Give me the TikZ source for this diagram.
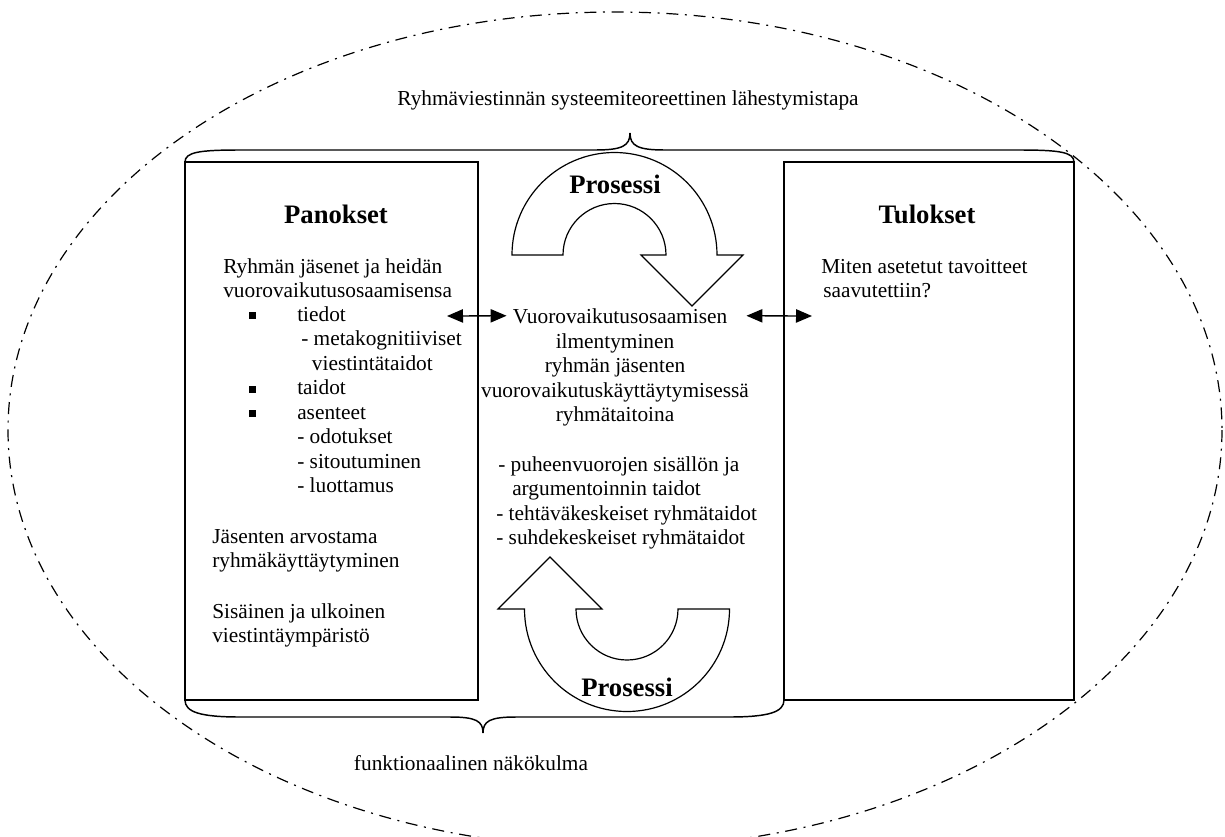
\documentclass[tikz,border=0pt]{standalone}
\usepackage{fontspec}
\setmainfont{Liberation Serif}
\usetikzlibrary{arrows.meta}

\newcommand{\sqbul}{\llap{\rule[1.5pt]{5.3pt}{5.3pt}\hspace{31pt}}}

\begin{document}
\begin{tikzpicture}[x=0.75pt,y=-0.75pt,
  txt/.style={font=\fontsize{16}{18.4}\selectfont,inner sep=0pt},
  head/.style={font=\fontsize{20}{24}\selectfont\bfseries,inner sep=0pt},
  boxline/.style={line width=1.25pt},
  brace/.style={line width=1.1pt},
  procarrow/.style={line width=0.9pt,fill=white},
  biarrow/.style={{Triangle[length=12pt,width=10pt]}-{Triangle[length=12pt,width=10pt]},line width=1pt}]
\useasboundingbox (0,0) rectangle (1225,836);
\clip (0,0) rectangle (1225,836);

\draw[line width=0.9pt,dash pattern=on 9pt off 5pt on 1.5pt off 5pt] (615,430) ellipse [x radius=607,y radius=418];

\draw[boxline] (185,162) rectangle (478,700);
\draw[boxline] (784,162) rectangle (1074,700);

\draw[brace] (185,162) .. controls (185,152) and (200,150) .. (240,150) -- (595,150)
  .. controls (622,150) and (630,146) .. (630,133)
  .. controls (630,146) and (638,150) .. (665,150) -- (1019,150)
  .. controls (1059,150) and (1074,152) .. (1074,162);
\draw[brace] (185,700) .. controls (185,712) and (200,717) .. (240,717) -- (450,717)
  .. controls (476,717) and (483,721) .. (483,733)
  .. controls (483,721) and (490,717) .. (516,717) -- (729,717)
  .. controls (769,717) and (784,712) .. (784,700);

% prosessi arrows
\draw[procarrow] (512,255) arc[start angle=180,end angle=360,radius=102.5]
  -- (743,255) -- (692,306) -- (641,255) -- (666,255)
  arc[start angle=0,end angle=-180,radius=51.5] -- cycle;
\draw[procarrow] (524.5,609) -- (498,609) -- (550,557) -- (602,609) -- (576,609)
  arc[start angle=180,end angle=0,radius=51] -- (729.5,609)
  arc[start angle=0,end angle=180,radius=102.5] -- cycle;

\node[txt] (title) at (628,100) {Ryhmäviestinnän systeemiteoreettinen lähestymistapa};
\node[txt] (funk) at (471,763) {funktionaalinen näkökulma};

\node[head] (panokset) at (336,214) {Panokset};
\node[head] (tulokset) at (927,214) {Tulokset};
\node[head] (prosA) at (615,184) {Prosessi};
\node[head] (prosB) at (627,687) {Prosessi};

% panokset
\node[txt,align=left,anchor=north west] (jasenet) at (223,255.8)
  {\strut Ryhmän jäsenet ja heidän\\vuorovaikutusosaamisensa};
\node[txt,align=left,anchor=north west] (osaaminen) at (297,303.8)
  {\strut\sqbul tiedot\\
   \hspace*{3pt}- metakognitiiviset\\
   \hspace*{11pt}viestintätaidot\\
   \sqbul taidot\\
   \sqbul asenteet\\
   - odotukset\\
   - sitoutuminen\\
   - luottamus};
\node[txt,align=left,anchor=north west] (arvostama) at (212,525.8)
  {\strut Jäsenten arvostama\\ryhmäkäyttäytyminen};
\node[txt,align=left,anchor=north west] (ymparisto) at (212,600.8)
  {\strut Sisäinen ja ulkoinen\\viestintäympäristö};

% prosessi
\node[txt,anchor=base,inner xsep=4.5pt] (vuoro) at (620,323) {Vuorovaikutusosaamisen};
\node[txt,align=center,anchor=north] (ilm) at (615,330.8)
  {\strut ilmentyminen\\ryhmän jäsenten\\vuorovaikutuskäyttäytymisessä\\ryhmätaitoina};
\node[txt,align=left,anchor=north west] (taidot) at (496,453.8)
  {\strut\hspace*{1.5pt}- puheenvuorojen sisällön ja\\
   \hspace*{12pt}argumentoinnin taidot\\
   - tehtäväkeskeiset ryhmätaidot\\
   - suhdekeskeiset ryhmätaidot};

% tulokset
\node[txt,align=left,anchor=north west] (miten) at (821,255.8)
  {\strut Miten asetetut tavoitteet\\\hspace*{1.5pt}saavutettiin?};

\coordinate (panR) at (447,316);
\coordinate (tulL) at (812,316);
\draw[biarrow] (panR) -- (vuoro.west);
\draw[biarrow] ([xshift=9.75pt]vuoro.east) -- (tulL);
\end{tikzpicture}
\end{document}
